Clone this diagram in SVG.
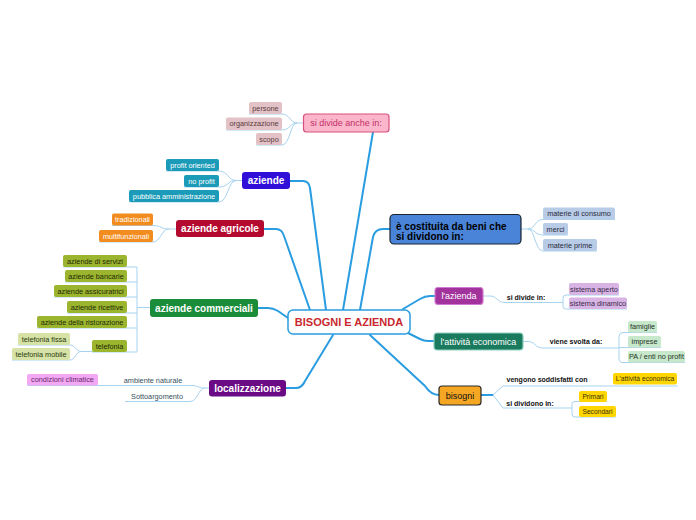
<svg xmlns="http://www.w3.org/2000/svg" width="696" height="520" viewBox="0 0 696 520">
<style>
text{font-family:"Liberation Sans",Arial,sans-serif;text-anchor:middle}
.main{fill:none;stroke:#2a9ce0;stroke-width:2;stroke-linecap:round;stroke-linejoin:round}
.sub{fill:none;stroke:#a6d3f0;stroke-width:1}
.s{font-size:7.3px}
.b{font-size:10px;font-weight:bold;fill:#fff}
.m{font-size:9px;fill:#fff}
.lbl{font-size:7px;font-weight:bold;fill:#111}
</style>
<rect width="696" height="520" fill="#fff"/>
<g id="connectors">
<path class="main" d="M373,132 L343,310"/>
<path class="main" d="M290,181 H303 Q309,181 310,188 L326,310"/>
<path class="main" d="M264,229 H276 Q282,229 284,236 L310,310"/>
<path class="main" d="M258,308 H268 Q273,308 278,311 L288,318"/>
<path class="main" d="M286,388 H296 Q302,388 305,381 L333,335"/>
<path class="main" d="M360,310 L373,237 Q375,229 383,229 H390"/>
<path class="main" d="M403,309 L420,299 Q425,296 430,296 H435"/>
<path class="main" d="M408,333 L420,339 Q424,341 428,341 H434"/>
<path class="main" d="M370,335 L425,386 Q431,395 439,395"/>
<path class="main" d="M481,395 H493"/>
<path class="sub" d="M303,123 H297 C290,123 290,114 282,114 H249"/>
<path class="sub" d="M297,123 C290,123 290,130 282,130 H226"/>
<path class="sub" d="M297,123 C290,123 290,145 282,145 H256"/>
<path class="sub" d="M242,180.5 H236 C228,180.5 228,171 219,171 H166"/>
<path class="sub" d="M236,180.5 C228,180.5 228,187 219,187 H184"/>
<path class="sub" d="M236,180.5 C228,180.5 228,202 219,202 H129"/>
<path class="sub" d="M176,229 H169 C161,229 161,225.5 153,225.5 H112"/>
<path class="sub" d="M169,229 C161,229 161,242 153,242 H99"/>
<path class="sub" d="M150,307.5 H137 M137,267 V352 M137,267 H63 M137,282 H65 M137,297 H54 M137,313 H67 M137,328 H37 M137,352 H92"/>
<path class="sub" d="M92,351.5 H81 C76,351.5 75,345 70,345 H18"/>
<path class="sub" d="M81,351.5 C76,351.5 75,360 70,360 H12"/>
<path class="sub" d="M209,388 H205 C198,388 198,385.5 192,385.5 H27"/>
<path class="sub" d="M205,388 C198,388 198,401.5 190,401.5 H125"/>
<path class="sub" d="M521,229 H528 C535,229 535,219.5 543,219.5 H615"/>
<path class="sub" d="M528,229 C535,229 535,235 543,235 H568"/>
<path class="sub" d="M528,229 C535,229 535,251 543,251 H597"/>
<path class="sub" d="M483,296 H490 C497,296 497,302.5 505,302.5 H563"/>
<path class="sub" d="M619,295 H566 Q563,295 563,298 V306 Q563,309 566,309 H627"/>
<path class="sub" d="M523,341.5 H528 C535,341.5 535,348 543,348 H619"/>
<path class="sub" d="M657,332.5 H623 Q619,332.5 619,336.5 V358 Q619,362.5 623,362.5 H685 M619,347.5 H661"/>
<path class="sub" d="M493,395 L503,386 H678"/>
<path class="sub" d="M493,395 L503,408 H572"/>
<path class="sub" d="M607,401.5 H575 Q572,401.5 572,404.5 V414 Q572,417 575,417 H616"/>
</g>
<g id="center">
<rect x="288" y="310" width="122" height="24" rx="5" fill="#fff" stroke="#2a9ce0" stroke-width="1.5"/>
<text x="349" y="326" font-size="11" font-weight="bold" fill="#c8282e">BISOGNI E AZIENDA</text>
</g>
<g id="si-divide-anche">
<rect x="303.5" y="114" width="85.5" height="18" rx="3" fill="#fbb6cb" stroke="#d9507e" stroke-width="1.2"/>
<text x="346" y="126.2" font-size="9" fill="#c43068">si divide anche in:</text>
</g>
<g id="persone"><rect x="249" y="102" width="33" height="12" rx="2" fill="#e2c2c6"/><text class="s" x="265.5" y="110.6" fill="#5a3a40">persone</text></g>
<g id="organizzazione"><rect x="226" y="117.5" width="56" height="12.5" rx="2" fill="#e2c2c6"/><text class="s" x="254" y="126.4" fill="#5a3a40">organizzazione</text></g>
<g id="scopo"><rect x="256" y="133" width="26" height="12" rx="2" fill="#e2c2c6"/><text class="s" x="269" y="141.6" fill="#5a3a40">scopo</text></g>
<g id="aziende">
<rect x="242" y="172" width="48" height="17" rx="3" fill="#3010d8"/>
<text class="b" x="266" y="184">aziende</text>
</g>
<g id="profit-oriented"><rect x="166" y="159" width="53" height="12" rx="2" fill="#1b9bb8"/><text class="s" x="192.5" y="167.6" fill="#fff">profit oriented</text></g>
<g id="no-profit"><rect x="184" y="175" width="35" height="12" rx="2" fill="#1b9bb8"/><text class="s" x="201.5" y="183.6" fill="#fff">no profit</text></g>
<g id="pubblica-amministrazione"><rect x="129" y="190" width="90" height="12" rx="2" fill="#1b9bb8"/><text class="s" x="174" y="198.6" fill="#fff">pubblica amministrazione</text></g>
<g id="aziende-agricole">
<rect x="176" y="220" width="88" height="17" rx="3" fill="#b50a30"/>
<text class="b" x="220" y="232">aziende agricole</text>
</g>
<g id="tradizionali"><rect x="112" y="213.5" width="41" height="12" rx="2" fill="#f28c1e"/><text class="s" x="132.5" y="222.1" fill="#fff">tradizionali</text></g>
<g id="multifunzionali"><rect x="99" y="230" width="54" height="12" rx="2" fill="#f28c1e"/><text class="s" x="126" y="238.6" fill="#fff">multifunzionali</text></g>
<g id="aziende-commerciali">
<rect x="150" y="299" width="108" height="18" rx="3" fill="#1a8c3a"/>
<text class="b" x="204" y="311.5">aziende commerciali</text>
</g>
<g id="aziende-servizi"><rect x="63" y="255" width="64" height="12" rx="2" fill="#9cb52e"/><text class="s" x="95" y="263.6" fill="#1e2a08">aziende di servizi</text></g>
<g id="aziende-bancarie"><rect x="65" y="270" width="62" height="12" rx="2" fill="#9cb52e"/><text class="s" x="96" y="278.6" fill="#1e2a08">aziende bancarie</text></g>
<g id="aziende-assicuratrici"><rect x="54" y="285" width="73" height="12" rx="2" fill="#9cb52e"/><text class="s" x="90.5" y="293.6" fill="#1e2a08">aziende assicuratrici</text></g>
<g id="aziende-ricettive"><rect x="67" y="301" width="60" height="12" rx="2" fill="#9cb52e"/><text class="s" x="97" y="309.6" fill="#1e2a08">aziende ricettive</text></g>
<g id="aziende-ristorazione"><rect x="37" y="316" width="90" height="12" rx="2" fill="#9cb52e"/><text class="s" x="82" y="324.6" fill="#1e2a08">aziende della ristorazione</text></g>
<g id="telefonia"><rect x="92" y="340" width="35" height="12" rx="2" fill="#9cb52e"/><text class="s" x="109.5" y="348.6" fill="#1e2a08">telefonia</text></g>
<g id="telefonia-fissa"><rect x="18" y="333" width="52" height="12" rx="2" fill="#d6e2a6"/><text class="s" x="44" y="341.6" fill="#2a3a10">telefonia fissa</text></g>
<g id="telefonia-mobile"><rect x="12" y="348" width="58" height="12" rx="2" fill="#d6e2a6"/><text class="s" x="41" y="356.6" fill="#2a3a10">telefonia mobile</text></g>
<g id="localizzazione">
<rect x="209" y="380" width="77" height="16.5" rx="3" fill="#6a0a85"/>
<text class="b" x="247.5" y="391.8">localizzazione</text>
</g>
<g id="ambiente-naturale"><text class="s" x="153" y="382.6" fill="#34505e">ambiente naturale</text></g>
<g id="sottoargomento"><text class="s" x="157" y="398.8" fill="#34505e">Sottoargomento</text></g>
<g id="condizioni-climatice"><rect x="27" y="374" width="71" height="11.5" rx="2" fill="#f2a8f2"/><text class="s" x="62.5" y="382.4" fill="#6a2a70">condizioni climatice</text></g>
<g id="costituita">
<rect x="390" y="214.5" width="131" height="29.5" rx="4" fill="#4a84d8" stroke="#1c2430" stroke-width="1.2"/>
<text x="396" y="229.5" font-size="10" font-weight="bold" fill="#000" style="text-anchor:start">è costituita da beni che</text>
<text x="396" y="239.5" font-size="10" font-weight="bold" fill="#000" style="text-anchor:start">si dividono in:</text>
</g>
<g id="materie-consumo"><rect x="543" y="207.5" width="72" height="12" rx="2" fill="#b8cce8"/><text class="s" x="579" y="216.1" fill="#2a2a3a">materie di consumo</text></g>
<g id="merci"><rect x="543" y="223" width="25" height="12" rx="2" fill="#b8cce8"/><text class="s" x="555.5" y="231.6" fill="#2a2a3a">merci</text></g>
<g id="materie-prime"><rect x="543" y="239" width="54" height="12" rx="2" fill="#b8cce8"/><text class="s" x="570" y="247.6" fill="#2a2a3a">materie prime</text></g>
<g id="lazienda">
<rect x="435" y="287.5" width="48" height="17" rx="3" fill="#a2329c" stroke="#d27ad0" stroke-width="1.2"/>
<text class="m" x="459" y="299.2">l'azienda</text>
</g>
<g id="si-divide-in"><text class="lbl" x="526" y="299.5">si divide in:</text></g>
<g id="sistema-aperto"><rect x="569" y="283" width="50" height="12" rx="2" fill="#d8b4e4"/><text class="s" x="594" y="291.6" fill="#3a2a4a">sistema aperto</text></g>
<g id="sistema-dinamico"><rect x="569" y="297.5" width="58" height="11.5" rx="2" fill="#d8b4e4"/><text class="s" x="598" y="306" fill="#3a2a4a">sistema dinamico</text></g>
<g id="attivita-economica">
<rect x="434" y="333" width="89" height="17" rx="3" fill="#1a7a5e" stroke="#8fd0bf" stroke-width="1.2"/>
<text class="m" x="478.5" y="344.7">l'attività economica</text>
</g>
<g id="viene-svolta"><text class="lbl" x="576" y="344.3">viene svolta da:</text></g>
<g id="famiglie"><rect x="628" y="321" width="29" height="11.5" rx="2" fill="#c8e8cc"/><text class="s" x="642.5" y="329.4" fill="#1e321e">famiglie</text></g>
<g id="imprese"><rect x="628" y="336" width="33" height="11.5" rx="2" fill="#c8e8cc"/><text class="s" x="644.5" y="344.4" fill="#1e321e">imprese</text></g>
<g id="pa-enti"><rect x="628" y="351" width="57" height="11.5" rx="2" fill="#c8e8cc"/><text class="s" x="656.5" y="359.4" fill="#1e321e">PA / enti no profit</text></g>
<g id="bisogni">
<rect x="439" y="386" width="42" height="19" rx="3" fill="#f5a623" stroke="#2a2a2a" stroke-width="1.2"/>
<text x="460" y="398.8" font-size="9" fill="#111">bisogni</text>
</g>
<g id="vengono-soddisfatti"><text class="lbl" x="547" y="382">vengono soddisfatti con</text></g>
<g id="si-dividono-in"><text class="lbl" x="530" y="405.5">si dividono in:</text></g>
<g id="attivita-economica-2"><rect x="613" y="373" width="64" height="11.5" rx="2" fill="#ffd600"/><text x="645" y="381.3" font-size="6.7" fill="#3a3000">L'attività economica</text></g>
<g id="primari"><rect x="579" y="391" width="28" height="11" rx="2" fill="#ffd600"/><text x="593" y="399" font-size="6.7" fill="#3a3000">Primari</text></g>
<g id="secondari"><rect x="579" y="406" width="37" height="11" rx="2" fill="#ffd600"/><text x="597.5" y="414" font-size="6.7" fill="#3a3000">Secondari</text></g>
</svg>
